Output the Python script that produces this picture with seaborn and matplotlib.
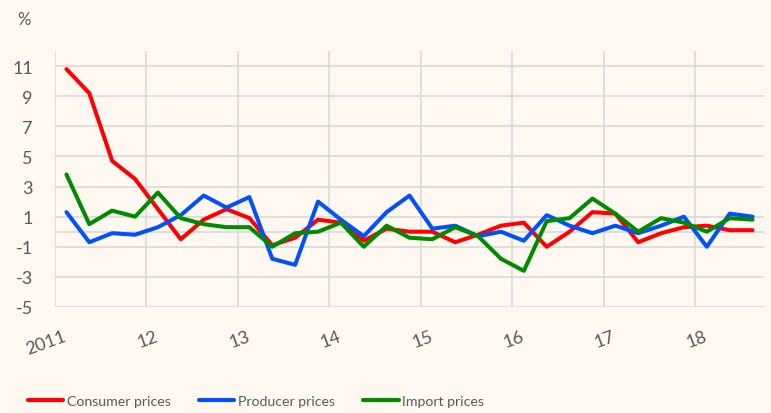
import matplotlib
matplotlib.use('Agg')
import matplotlib.pyplot as plt
import pandas as pd
import seaborn as sns

# quarterly data, 2011Q1 - 2018Q3 (% change)
quarters = [f'{y}Q{q}' for y in range(2011, 2019) for q in range(1, 5)][:31]
consumer = [10.8, 9.2, 4.7, 3.5, 1.5, -0.5, 0.8, 1.5, 0.9, -0.9, -0.4, 0.8,
            0.6, -0.6, 0.2, 0.0, 0.0, -0.7, -0.2, 0.4, 0.6, -1.0, 0.0, 1.3,
            1.2, -0.7, -0.1, 0.3, 0.4, 0.1, 0.1]
producer = [1.3, -0.7, -0.1, -0.2, 0.3, 1.1, 2.4, 1.6, 2.3, -1.8, -2.2, 2.0,
            0.8, -0.3, 1.3, 2.4, 0.2, 0.4, -0.3, 0.0, -0.6, 1.1, 0.4, -0.1,
            0.4, -0.1, 0.4, 1.0, -1.0, 1.2, 1.0]
imports = [3.8, 0.5, 1.4, 1.0, 2.6, 0.9, 0.5, 0.3, 0.3, -1.0, -0.1, 0.0,
           0.6, -1.0, 0.4, -0.4, -0.5, 0.3, -0.3, -1.8, -2.6, 0.7, 0.9, 2.2,
           1.2, 0.0, 0.9, 0.6, 0.0, 0.9, 0.8]
series_names = ['Consumer prices', 'Producer prices', 'Import prices']
year_labels = ['2011', '12', '13', '14', '15', '16', '17', '18']
y_ticks = [-5, -3, -1, 1, 3, 5, 7, 9, 11]

bg = '#FEF8F1'
grid_c = '#D9D9D9'
text_c = '#595959'
palette = {'Consumer prices': '#FF0000', 'Producer prices': '#0050FF',
           'Import prices': '#008A00'}

df = pd.DataFrame({'quarter': quarters, 'Consumer prices': consumer,
                   'Producer prices': producer, 'Import prices': imports})
df['idx'] = range(len(df))
long = df.melt(id_vars=['quarter', 'idx'], value_vars=series_names,
               var_name='series', value_name='value')

sns.set_style('white', {'axes.facecolor': bg, 'figure.facecolor': bg})
plt.rcParams['font.family'] = ['Lato', 'DejaVu Sans']

fig = plt.figure(figsize=(7.71, 4.14), dpi=100)
ax = fig.add_axes([55 / 771, 1 - 308 / 414, (764 - 55) / 771, (308 - 52) / 414])

# grid lines (drawn below the series)
for yv in y_ticks + [0]:
    ax.axhline(yv, color=grid_c, lw=1.2, zorder=0)
year_pos = [i * 4 - 0.5 for i in range(len(year_labels))]
for xv in year_pos:
    ax.axvline(xv, color=grid_c, lw=1.2, zorder=0)

sns.lineplot(data=long, x='idx', y='value', hue='series', palette=palette,
             hue_order=series_names, linewidth=2.9, ax=ax, legend=False,
             zorder=3)

ax.set_xlim(-0.5, len(quarters) - 0.5)
ax.set_ylim(-5, 12)
ax.set_yticks(y_ticks)
ax.set_yticklabels([str(v) for v in y_ticks], fontsize=13, color=text_c)
# rotated labels end slightly right of each year boundary
ax.set_xticks([p + 0.6 for p in year_pos])
ax.set_xticklabels(year_labels, fontsize=13, color=text_c, rotation=20,
                   ha='right')
ax.tick_params(axis='x', length=0, pad=15)
ax.tick_params(axis='y', length=0, pad=16)
ax.set_xlabel('')
ax.set_ylabel('')
sns.despine(ax=ax, left=True, bottom=True)

fig.text(24 / 771, 1 - 20 / 414, '%', fontsize=12, color=text_c,
         ha='center', va='center')

handles = [plt.Line2D([], [], color=palette[s], lw=3) for s in series_names]
fig.legend(handles, series_names, loc='center left', ncol=3,
           bbox_to_anchor=(28 / 771, 1 - 402 / 414), frameon=False,
           borderpad=0, borderaxespad=0, fontsize=10.2, handlelength=2.5,
           handletextpad=0.25, columnspacing=2.0, labelcolor=text_c)

fig.savefig('out.png', dpi=100, facecolor=bg)
